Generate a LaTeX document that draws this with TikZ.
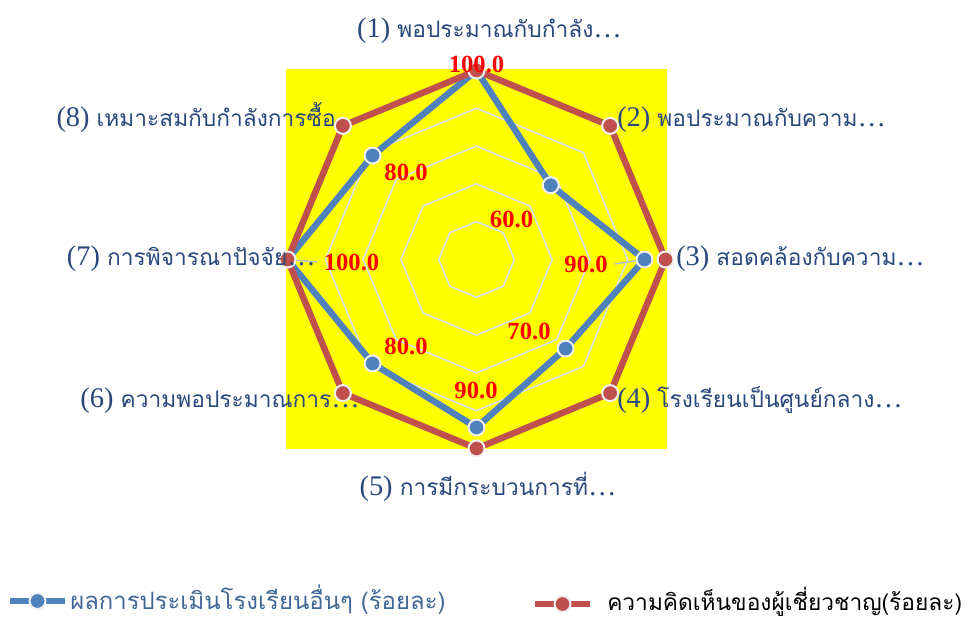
\documentclass[tikz,border=0pt]{standalone}
\usepackage{fontspec}
\setmainfont{Liberation Serif}
\newfontfamily\thaifont[Script=Thai,Scale=0.8]{Loma}
\definecolor{axisblue}{RGB}{41,72,125}
\definecolor{serblue}{RGB}{79,129,189}
\definecolor{serred}{RGB}{192,80,77}
\definecolor{gridline}{RGB}{214,224,240}
\definecolor{leadgray}{RGB}{176,192,214}
\definecolor{plotyellow}{RGB}{255,255,0}
\tikzstyle{bluept}=[circle,fill=serblue,draw=white!88!gray,line width=1.5pt,minimum size=12pt,inner sep=0pt]
\tikzstyle{redpt}=[circle,fill=serred,draw=white!88!gray,line width=1.5pt,minimum size=12pt,inner sep=0pt]
\tikzstyle{blueline}=[serblue,line width=4.8pt,line join=round]
\tikzstyle{redline}=[serred,line width=4.8pt,line join=round]
\tikzstyle{ring}=[gridline,line width=1.2pt]
\tikzstyle{leader}=[leadgray,line width=1.1pt]
\tikzstyle{vallabel}=[text=red,font=\fontsize{18.5}{20}\selectfont\bfseries,inner sep=0pt]
\tikzstyle{axislabel}=[text=axisblue,font=\fontsize{21.3}{24}\selectfont,inner sep=0pt]

\begin{document}
\begin{tikzpicture}[x=0.75pt,y=0.75pt]
\useasboundingbox[fill=white] (0,0) rectangle (969,621);
\fill[plotyellow] (286,172) rectangle (667,552);
\begin{scope}[shift={(476.5,361.5)}]
% grid
\foreach \r in {37.8,75.6,113.4,151.2,189}
  \draw[ring] (90:\r) -- (45:\r) -- (0:\r) -- (-45:\r) -- (-90:\r) -- (-135:\r) -- (180:\r) -- (135:\r) -- cycle;
% school series
\coordinate (b1) at (90:189);
\coordinate (b2) at (45:105);
\coordinate (b3) at (0:168);
\coordinate (b4) at (-45:126);
\coordinate (b5) at (-90:168);
\coordinate (b6) at (-135:147);
\coordinate (b7) at (180:189);
\coordinate (b8) at (135:147);
% expert series
\coordinate (r1) at (90:189);
\coordinate (r2) at (45:189);
\coordinate (r3) at (0:189);
\coordinate (r4) at (-45:189);
\coordinate (r5) at (-90:189);
\coordinate (r6) at (-135:189);
\coordinate (r7) at (180:189);
\coordinate (r8) at (135:189);
\end{scope}
\draw[blueline] (b1) -- (b2) -- (b3) -- (b4) -- (b5) -- (b6) -- (b7) -- (b8) -- cycle;
\foreach \i in {1,...,8} \node[bluept] (bm\i) at (b\i) {};
\draw[redline] (r1) -- (r2) -- (r3) -- (r4) -- (r5) -- (r6) -- (r7) -- (r8) -- cycle;
\foreach \i in {1,...,8} \node[redpt] (rm\i) at (r\i) {};
% values
\node[vallabel] at (476.5,557) (v1) {100.0};
\node[vallabel] at (511.5,401.5) (v2) {60.0};
\node[vallabel] at (586,357) (v3) {90.0};
\node[vallabel] at (529,290) (v4) {70.0};
\node[vallabel] at (476,230.5) (v5) {90.0};
\node[vallabel] at (406,275) (v6) {80.0};
\node[vallabel] at (351.5,359) (v7) {100.0};
\node[vallabel] at (406,449) (v8) {80.0};
\draw[leader] ([xshift=5]v3.east) -- (bm3);
\draw[leader] ([xshift=-5]v7.west) -- (rm7);
% axes
\node[axislabel,anchor=base] at (489.5,583) (a1) {(1) {\thaifont พอประมาณกับกำลัง}…};
\node[axislabel,anchor=base west] at (617,494) (a2) {(2) {\thaifont พอประมาณกับความ}…};
\node[axislabel,anchor=base west] at (676,355) (a3) {(3) {\thaifont สอดคล้องกับความ}…};
\node[axislabel,anchor=base west] at (617,214) (a4) {(4) {\thaifont โรงเรียนเป็นศูนย์กลาง}…};
\node[axislabel,anchor=base] at (488,126) (a5) {(5) {\thaifont การมีกระบวนการที่}…};
\node[axislabel,anchor=base east] at (360,214) (a6) {(6) {\thaifont ความพอประมาณการ}…};
\node[axislabel,anchor=base east] at (316,355) (a7) {(7) {\thaifont การพิจารณาปัจจัย}…};
\node[axislabel,anchor=base east] at (336,494) (a8) {(8) {\thaifont เหมาะสมกับกำลังการซื้อ}};
% legend
\coordinate (lb1) at (10,20);
\coordinate (lb2) at (65,20);
\draw[blueline] (lb1) -- node[bluept] (lbm) {} (lb2);
\node[anchor=west,inner sep=0pt,text=serblue!80!black,font=\fontsize{22.4}{26}\selectfont\thaifont] at (70,21) (lbt) {ผลการประเมินโรงเรียนอื่นๆ (ร้อยละ)};
\coordinate (lr1) at (535,17);
\coordinate (lr2) at (590,17);
\draw[redline] (lr1) -- node[redpt] (lrm) {} (lr2);
\node[anchor=west,inner sep=0pt,font=\fontsize{21.3}{25}\selectfont\thaifont] at (607,19) (lrt) {ความคิดเห็นของผู้เชี่ยวชาญ(ร้อยละ)};
\end{tikzpicture}
\end{document}
